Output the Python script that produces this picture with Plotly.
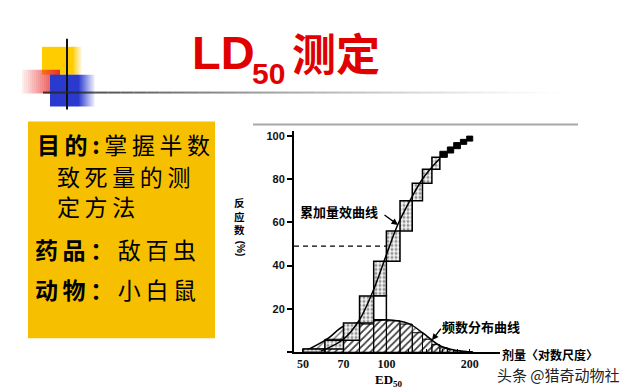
import plotly.graph_objects as go

# The page body adds an 8px margin, so the figure is 632x384 and all
# layout pixel positions are measured from the window's top-left corner.
OFF = 8
W, H = 640 - OFF, 392 - OFF

# ---------------- data ----------------
# cumulative dose-response staircase (stippled boxes)
cum_edges = [50, 60, 70, 80, 90, 100, 112, 124, 135, 146, 156]
cum_levels = [1.5, 5.5, 13.5, 26, 42, 56, 70, 78, 84.5, 90]
# small solid black steps at the top
top_edges = [156, 166, 175, 185, 195, 205]
top_levels = [90, 92, 94, 96, 97.5, 99]
# frequency histogram (hatched bars)
hist_edges = [50, 60, 70, 80, 90, 100, 112, 124, 135, 146, 156, 166, 175, 185, 195, 205]
hist_freq = [1.5, 6, 13, 13, 15, 14.5, 13, 9, 6, 3.5, 2, 1.3, 0.8, 0.5, 0.3]
# frequency distribution curve
bell_dose = [50, 61, 70, 80, 90, 100, 120, 135, 156, 175, 200]
bell_freq = [0, 6, 12, 13.5, 14.5, 15, 13.3, 9, 3, 1, 0]
# cumulative dose-effect curve
sig_dose = [58, 70, 80, 90, 100, 110, 124, 135, 146, 156]
sig_val = [0.5, 6, 15, 29, 45, 59, 72, 80, 85.5, 89.5]
# open box above the ED50 bar
open_box_dose = [90, 100]
open_box_level = [15, 26]
# ED50 marker
ed50_dose = 100
ed50_level = 49

x_tickvals = [50, 60, 70, 80, 90, 100, 120, 140, 160, 180, 200]
x_ticktext = ["50", "", "70", "", "", "100", "", "", "", "", "200"]
y_tickvals = [0, 20, 40, 60, 80, 100]
y_ticktext = ["", "20", "40", "60", "80", "100"]

# ---------------- geometry helpers (layout only) ----------------
def px(x):
    return (x - OFF) / W

def py(y):
    return 1 - (y - OFF) / H

X_LOG_RANGE = [1.6665, 2.4102]
Y_RANGE = [0, 102]

fig = go.Figure()

# histogram bars
hx, hy = [], []
for i, f in enumerate(hist_freq):
    a, b = hist_edges[i], hist_edges[i + 1]
    hx += [a, a, b, b, a, None]
    hy += [0, f, f, 0, 0, None]
fig.add_trace(go.Scatter(
    x=hx, y=hy, mode="lines", fill="toself", fillcolor="white",
    fillpattern=dict(shape="/", fgcolor="black", bgcolor="white", size=5, solidity=0.3),
    line=dict(color="black", width=1), hoverinfo="skip", showlegend=False))

# frequency distribution curve with hatched fill
fig.add_trace(go.Scatter(
    x=bell_dose, y=bell_freq, mode="lines", fill="tozeroy",
    fillpattern=dict(shape="/", fgcolor="black", bgcolor="rgba(255,255,255,0)", size=5, solidity=0.3),
    line=dict(color="black", width=1.5, shape="spline"), hoverinfo="skip", showlegend=False))

# cumulative stippled boxes
cx, cy = [], []
prev = 0
for i, c in enumerate(cum_levels):
    a, b = cum_edges[i], cum_edges[i + 1]
    cx += [a, a, b, b, a, None]
    cy += [prev, c, c, prev, prev, None]
    prev = c
fig.add_trace(go.Scatter(
    x=cx, y=cy, mode="lines", fill="toself", fillcolor="white",
    fillpattern=dict(shape=".", fgcolor="#333", bgcolor="#f4f4f4", size=4, solidity=0.45),
    line=dict(color="black", width=1.5), hoverinfo="skip", showlegend=False))

# open box
fig.add_trace(go.Scatter(
    x=[open_box_dose[0], open_box_dose[0], open_box_dose[1], open_box_dose[1], open_box_dose[0]],
    y=[open_box_level[0], open_box_level[1], open_box_level[1], open_box_level[0], open_box_level[0]],
    mode="lines", fill="toself", fillcolor="white",
    line=dict(color="black", width=1.5), hoverinfo="skip", showlegend=False))

# black top steps
tx, ty = [], []
for i in range(len(top_edges) - 1):
    a, b = top_edges[i], top_edges[i + 1]
    lo, hi = top_levels[i], top_levels[i + 1]
    tx += [a, a, b, b, a, None]
    ty += [lo, hi + 0.8, hi + 0.8, lo, lo, None]
fig.add_trace(go.Scatter(
    x=tx, y=ty, mode="lines", fill="toself", fillcolor="black",
    line=dict(color="black", width=1), hoverinfo="skip", showlegend=False))

# cumulative curve
fig.add_trace(go.Scatter(
    x=sig_dose, y=sig_val, mode="lines",
    line=dict(color="black", width=1.5, shape="spline"), hoverinfo="skip", showlegend=False))

# ED50 dashed line
fig.add_trace(go.Scatter(
    x=[10 ** X_LOG_RANGE[0], ed50_dose], y=[ed50_level, ed50_level], mode="lines",
    line=dict(color="black", width=1.2, dash="5px,4px"), hoverinfo="skip", showlegend=False))

fig.update_xaxes(
    type="log", range=X_LOG_RANGE, domain=[px(294), px(500)],
    showline=True, linecolor="black", linewidth=1.5, showgrid=False, zeroline=False,
    tickvals=x_tickvals, ticktext=x_ticktext, ticks="inside", ticklen=3,
    tickwidth=1, tickcolor="black",
    tickfont=dict(family="Liberation Serif", size=12, color="#111", weight="bold"))
fig.update_yaxes(
    range=Y_RANGE, domain=[py(352), py(130)],
    showline=True, linecolor="black", linewidth=2, showgrid=False, zeroline=False,
    tickvals=y_tickvals, ticktext=y_ticktext, ticks="outside", ticklen=5,
    tickwidth=1.5, tickcolor="black",
    tickfont=dict(family="Liberation Sans", size=11, color="#111", weight="bold"))

shapes = []
# decoration: yellow square with fade
shapes.append(dict(type="rect", xref="paper", yref="paper", x0=px(42), x1=px(72), y0=py(73), y1=py(45),
                   fillcolor="#FFCC00", line=dict(width=0), layer="above"))
for k in range(10):
    shapes.append(dict(type="rect", xref="paper", yref="paper", x0=px(72 + k), x1=px(73 + k),
                       y0=py(73), y1=py(45), fillcolor="rgba(255,204,0,%.2f)" % (1 - k / 10),
                       line=dict(width=0), layer="above"))
# red fading rect
for k in range(19):
    shapes.append(dict(type="rect", xref="paper", yref="paper", x0=px(22 + 2 * k), x1=px(24 + 2 * k),
                       y0=py(92), y1=py(68), fillcolor="rgba(230,40,40,%.2f)" % (0.08 + 0.85 * k / 18),
                       line=dict(width=0), layer="above"))
# blue square with fade
shapes.append(dict(type="rect", xref="paper", yref="paper", x0=px(50), x1=px(78), y0=py(105), y1=py(73),
                   fillcolor="#2A3ACF", line=dict(width=0), layer="above"))
for k in range(17):
    shapes.append(dict(type="rect", xref="paper", yref="paper", x0=px(78 + k), x1=px(79 + k),
                       y0=py(105), y1=py(73), fillcolor="rgba(42,58,207,%.2f)" % (1 - k / 17),
                       line=dict(width=0), layer="above"))
# vertical black line
shapes.append(dict(type="line", xref="paper", yref="paper", x0=px(67), x1=px(67), y0=py(108), y1=py(37),
                   line=dict(color="#111", width=2), layer="above"))
# fading horizontal rule
n = 40
for k in range(n):
    x0 = 43 + (560 - 43) * k / n
    x1 = 43 + (560 - 43) * (k + 1) / n
    a = max(0.0, 0.9 * (1 - k / n) ** 1.3)
    shapes.append(dict(type="line", xref="paper", yref="paper", x0=px(x0), x1=px(x1), y0=py(91), y1=py(91),
                       line=dict(color="rgba(40,40,40,%.3f)" % a, width=2), layer="above"))
# yellow text box
shapes.append(dict(type="rect", xref="paper", yref="paper", x0=px(28), x1=px(215), y0=py(338), y1=py(120),
                   fillcolor="#F6C000", line=dict(width=0), layer="below"))
# gray line above chart
shapes.append(dict(type="line", xref="paper", yref="paper", x0=px(253), x1=px(578), y0=py(123), y1=py(123),
                   line=dict(color="#A8A8A8", width=2), layer="below"))

annotations = []

def text(x, y, s, size, family="Noto Sans CJK SC", color="black", weight="normal",
         xanchor="left", yanchor="middle", angle=0, pad=1, align="left"):
    annotations.append(dict(xref="paper", yref="paper", x=px(x), y=py(y), text=s, showarrow=False,
                            xanchor=xanchor, yanchor=yanchor, textangle=angle, borderpad=pad, align=align,
                            font=dict(family=family, size=size, color=color, weight=weight)))

SP = "\u2009"  # thin space to widen the character spacing

def spaced(s):
    return SP.join(s)

# title
text(190, 51, "LD", 47, family="Liberation Sans", color="#E10000", weight="bold")
text(250, 72, "50", 30, family="Liberation Sans", color="#E10000", weight="bold")
text(290, 50, "测定", 44, color="#E10000", weight="bold")

# yellow box text
text(36, 143, "<b>" + spaced("目的:") + "</b>" + SP + spaced("掌握半数"), 23, pad=0)
text(56, 190, spaced("致死量的测") + "<br>" + spaced("定方法"), 23, pad=0)
text(34, 248, "<b>" + spaced("药品：") + "</b>" + SP + spaced("敌百虫"), 23, pad=0)
text(34, 288, "<b>" + spaced("动物：") + "</b>" + SP + spaced("小白鼠"), 23, pad=0)

# chart labels
text(239, 215, "反<br>应<br>数", 10.5, weight="bold", xanchor="center", pad=0)
text(240, 248, "(%)", 10, family="Liberation Sans", weight="bold", xanchor="center", angle=90, pad=0)
text(298, 211, "累加量效曲线", 13, weight="bold")
text(440, 326, "频数分布曲线", 13, weight="bold")
text(501, 354, "剂量〈对数尺度〉", 12, weight="bold", pad=0)
text(389, 380, "ED<sub>50</sub>", 13, family="Liberation Serif", weight="bold", xanchor="center", pad=0)
text(496, 374, "头条 @猎奇动物社", 15, color="#222", pad=0)

# arrows
annotations.append(dict(xref="paper", yref="paper", x=px(398), y=py(224), ax=-15, ay=-11, text="",
                        showarrow=True, arrowhead=2, arrowsize=1, arrowwidth=1.3, arrowcolor="black"))
annotations.append(dict(xref="paper", yref="paper", x=px(432), y=py(340), ax=10, ay=-13, text="",
                        showarrow=True, arrowhead=2, arrowsize=1, arrowwidth=1.3, arrowcolor="black"))

fig.update_layout(
    width=W, height=H, margin=dict(l=0, r=0, t=0, b=0),
    paper_bgcolor="white", plot_bgcolor="rgba(0,0,0,0)",
    shapes=shapes, annotations=annotations, showlegend=False)

fig.write_html("out.html")
